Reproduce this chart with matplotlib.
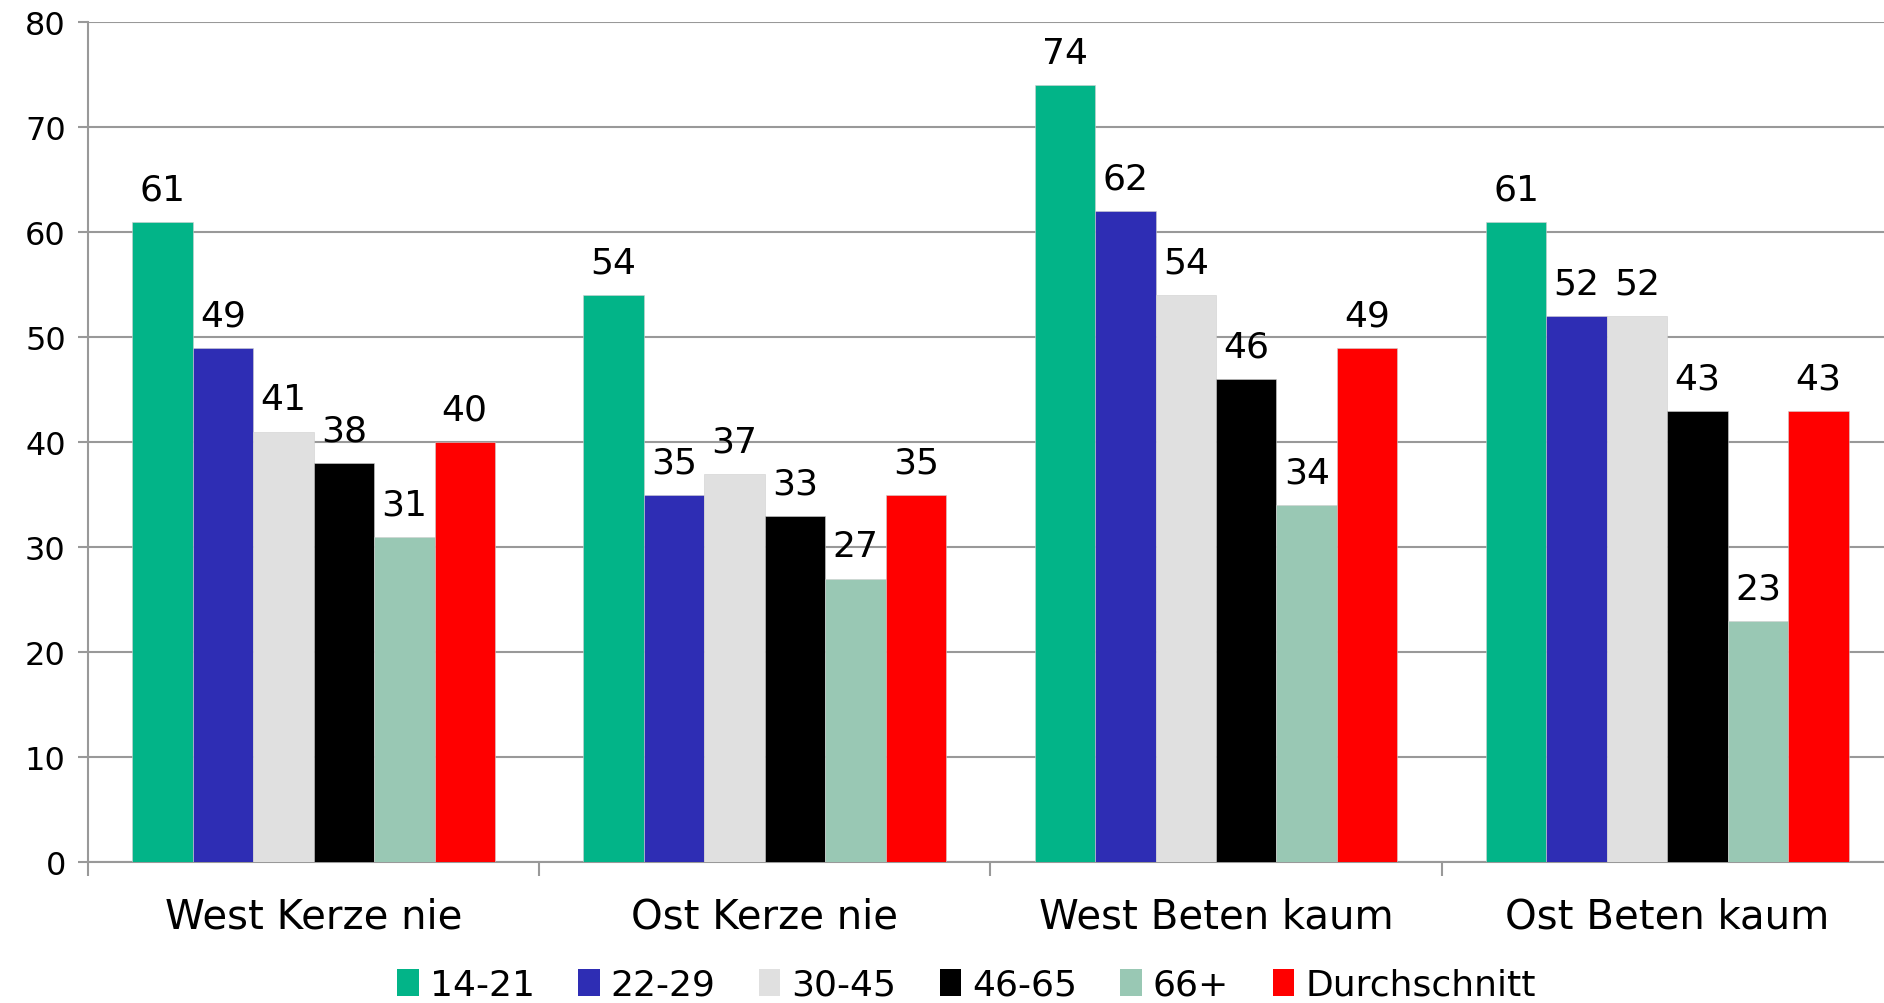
import numpy as np
import matplotlib
matplotlib.use('Agg')
import matplotlib.pyplot as plt
from matplotlib.patches import Patch

categories = ['West Kerze nie', 'Ost Kerze nie', 'West Beten kaum', 'Ost Beten kaum']
groups = ['14-21', '22-29', '30-45', '46-65', '66+', 'Durchschnitt']
values = {
    '14-21':        [61, 54, 74, 61],
    '22-29':        [49, 35, 62, 52],
    '30-45':        [41, 37, 54, 52],
    '46-65':        [38, 33, 46, 43],
    '66+':          [31, 27, 34, 23],
    'Durchschnitt': [40, 35, 49, 43],
}
colors = ['#02B488', '#2E2DB4', '#E0E0E0', '#000000', '#99C8B4', '#FF0000']

plt.rcParams['font.family'] = 'DejaVu Sans'

fig = plt.figure(figsize=(18.84, 10.04), dpi=100)
ax = fig.add_axes([0.0467, 0.1404, 0.958, 0.8366])

x = np.arange(len(categories))
w = 0.134
for i, g in enumerate(groups):
    pos = x + (i - 2.5) * w
    bars = ax.bar(pos, values[g], width=w, color=colors[i], edgecolor='#d0d0d0',
                  linewidth=0.4, zorder=3)
    for b, v in zip(bars, values[g]):
        ax.annotate(str(v), (b.get_x() + b.get_width() / 2, v), xytext=(0, 11),
                    textcoords='offset points', ha='center', va='bottom', fontsize=26)

ax.set_ylim(0, 80)
ax.set_xlim(-0.5, 3.5)
ax.set_yticks(range(0, 81, 10))
ax.tick_params(axis='y', labelsize=23, length=7, color='#999999', width=1.5, pad=9)
ax.yaxis.grid(True, color='#999999', linewidth=1.5, zorder=0)

ax.set_xticks(np.arange(-0.5, 4, 1.0))
ax.set_xticklabels([])
ax.tick_params(axis='x', which='major', length=10, color='#999999', width=1.5)
ax.set_xticks(x, minor=True)
ax.set_xticklabels(categories, minor=True, fontsize=29)
ax.tick_params(axis='x', which='minor', length=0, pad=25)

for s in ['top', 'right']:
    ax.spines[s].set_visible(False)
for s in ['left', 'bottom']:
    ax.spines[s].set_color('#999999')
    ax.spines[s].set_linewidth(1.5)

handles = [Patch(facecolor=c, edgecolor='none') for c in colors]
fig.legend(handles, groups, loc='center', bbox_to_anchor=(0.513, 0.018), ncol=6,
           frameon=False, prop={'family': 'DejaVu Sans Condensed', 'size': 26},
           handlelength=0.6, handleheight=0.8, handletextpad=0.3, columnspacing=1.2)

fig.savefig('out.png', dpi=100)
